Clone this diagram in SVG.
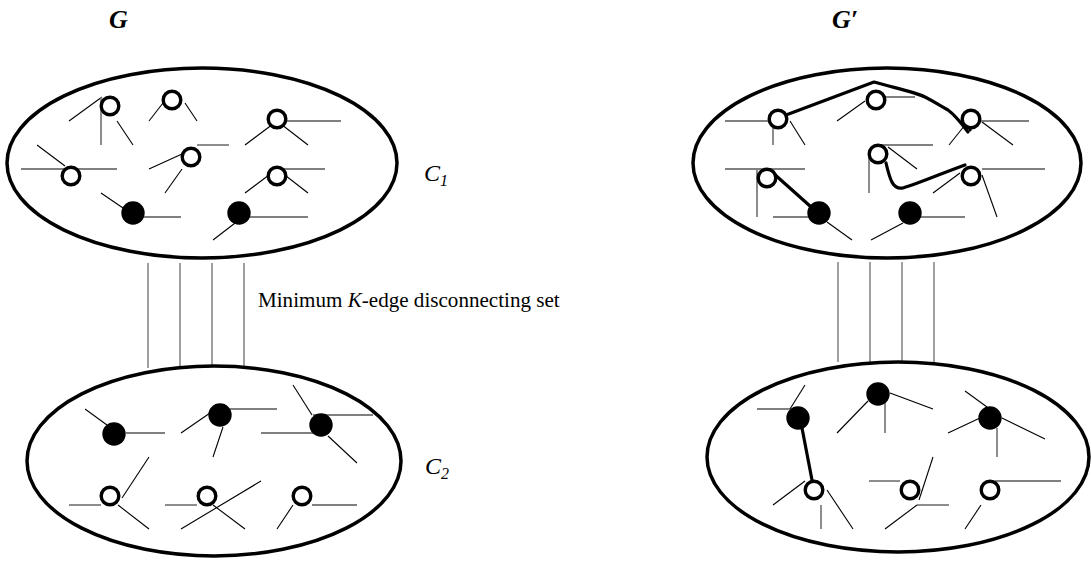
<svg xmlns="http://www.w3.org/2000/svg" width="1091" height="563" viewBox="0 0 1091 563">
<style>
.bg{fill:#fff}
.ell{fill:none;stroke:#000;stroke-width:3.5}
.b{stroke:#000;stroke-width:1.1;fill:none}
.g{stroke:#808080;stroke-width:1.8;fill:none}
.o{fill:#fff;stroke:#000;stroke-width:3.4}
.f{fill:#000}
.th{fill:none;stroke:#000;stroke-width:3.2;stroke-linecap:round;stroke-linejoin:round}
.cn{stroke:#808080;stroke-width:1.5}
.lbl{font-family:"Liberation Serif","Times New Roman",serif;fill:#000}
</style>
<rect class="bg" x="0" y="0" width="1091" height="563"/>

<g id="labels">
<text class="lbl" x="109" y="28" font-size="26" font-weight="bold" font-style="italic">G</text>
<text class="lbl" x="832" y="28" font-size="26" font-weight="bold" font-style="italic">G′</text>
<text class="lbl" x="424" y="181" font-size="24" font-style="italic">C<tspan font-size="16" dy="5">1</tspan></text>
<text class="lbl" x="425" y="474" font-size="24" font-style="italic">C<tspan font-size="16" dy="5">2</tspan></text>
<text class="lbl" x="258" y="307" font-size="21.1">Minimum <tspan font-style="italic">K</tspan>-edge disconnecting set</text>
</g>

<g id="connectors">
<line class="cn" x1="148" y1="263" x2="148" y2="368"/>
<line class="cn" x1="180" y1="263" x2="180" y2="367"/>
<line class="cn" x1="212" y1="263" x2="212" y2="367"/>
<line class="cn" x1="244" y1="263" x2="244" y2="367"/>
<line class="cn" x1="838" y1="262" x2="838" y2="362"/>
<line class="cn" x1="870" y1="262" x2="870" y2="362"/>
<line class="cn" x1="902" y1="262" x2="902" y2="362"/>
<line class="cn" x1="934" y1="262" x2="934" y2="362"/>
<path class="th" d="M786,115 L874,82 C895,88 915,92 925,97 C935,102 940,106 948,110 C955,115 962,124 968,132"/>
<line class="th" x1="970" y1="114" x2="970" y2="130"/>
<path class="th" d="M886,163 C890,180 893,190 903,188 C920,183 945,172 965,165"/>
<line class="th" x1="773" y1="173" x2="810" y2="206"/>
<line class="th" x1="802" y1="428" x2="812" y2="480"/>
</g>

<g id="C1-left">
<ellipse class="ell" cx="202" cy="163" rx="195" ry="95"/>
<g id="L1"><line class="b" x1="69" y1="121" x2="102" y2="97"/><line class="g" x1="101" y1="97" x2="101" y2="145"/><line class="b" x1="117" y1="121" x2="133" y2="145"/><circle class="o" cx="110" cy="106" r="8.8"/></g>
<g id="L2"><line class="b" x1="149" y1="121" x2="163" y2="103"/><line class="b" x1="185" y1="103" x2="197" y2="121"/><circle class="o" cx="172" cy="100" r="8.8"/></g>
<g id="L3"><line class="g" x1="277" y1="121" x2="341" y2="121"/><line class="b" x1="245" y1="145" x2="277" y2="121"/><line class="b" x1="277" y1="121" x2="308" y2="145"/><circle class="o" cx="277" cy="119" r="8.8"/></g>
<g id="L4"><line class="g" x1="197" y1="145" x2="229" y2="145"/><line class="b" x1="149" y1="169" x2="182" y2="154"/><line class="b" x1="165" y1="193" x2="182" y2="169"/><circle class="o" cx="191" cy="157" r="8.8"/></g>
<g id="L5"><line class="g" x1="21" y1="169" x2="117" y2="169"/><line class="b" x1="37" y1="145" x2="65" y2="166"/><circle class="o" cx="71" cy="176" r="8.8"/></g>
<g id="L6"><line class="g" x1="277" y1="169" x2="325" y2="169"/><line class="b" x1="245" y1="193" x2="277" y2="169"/><line class="b" x1="277" y1="169" x2="308" y2="193"/><circle class="o" cx="277" cy="176" r="8.8"/></g>
<g id="L7"><line class="b" x1="101" y1="193" x2="123" y2="208"/><line class="g" x1="133" y1="217" x2="181" y2="217"/><circle class="f" cx="133" cy="213" r="11.7"/></g>
<g id="L8"><line class="g" x1="239" y1="217" x2="308" y2="217"/><line class="b" x1="213" y1="240" x2="239" y2="220"/><circle class="f" cx="239" cy="213" r="11.7"/></g>
</g>

<g id="C2-left">
<ellipse class="ell" cx="214" cy="461" rx="187" ry="95"/>
<g id="M1"><line class="b" x1="85" y1="409" x2="107" y2="425"/><line class="g" x1="126" y1="433" x2="165" y2="433"/><circle class="f" cx="114" cy="434" r="11.7"/></g>
<g id="M2"><line class="g" x1="230" y1="409" x2="277" y2="409"/><line class="b" x1="181" y1="433" x2="210" y2="413"/><line class="b" x1="213" y1="457" x2="223" y2="427"/><circle class="f" cx="220" cy="415" r="11.7"/></g>
<g id="M3"><line class="g" x1="261" y1="433" x2="313" y2="433"/><line class="b" x1="293" y1="385" x2="312" y2="415"/><line class="g" x1="313" y1="415" x2="373" y2="415"/><line class="b" x1="328" y1="436" x2="357" y2="463"/><circle class="f" cx="321" cy="425" r="11.7"/></g>
<g id="M4"><line class="g" x1="69" y1="505" x2="101" y2="505"/><line class="b" x1="122" y1="498" x2="149" y2="457"/><line class="b" x1="118" y1="505" x2="149" y2="529"/><circle class="o" cx="110" cy="496" r="8.8"/></g>
<g id="M5"><line class="g" x1="165" y1="505" x2="197" y2="505"/><line class="b" x1="181" y1="529" x2="261" y2="481"/><line class="b" x1="213" y1="505" x2="245" y2="529"/><circle class="o" cx="207" cy="496" r="8.8"/></g>
<g id="M6"><line class="g" x1="312" y1="505" x2="357" y2="505"/><line class="b" x1="277" y1="529" x2="293" y2="505"/><circle class="o" cx="302" cy="496" r="8.8"/></g>
</g>

<g id="C1-right">
<ellipse class="ell" cx="887" cy="163" rx="194" ry="95"/>
<g id="R1"><line class="g" x1="725" y1="121" x2="773" y2="121"/><line class="g" x1="773" y1="121" x2="773" y2="145"/><line class="b" x1="790" y1="121" x2="805" y2="145"/><circle class="o" cx="778" cy="119" r="8.8"/></g>
<g id="R2"><line class="g" x1="876" y1="97" x2="915" y2="97"/><line class="b" x1="837" y1="121" x2="865" y2="101"/><circle class="o" cx="876" cy="100" r="8.8"/></g>
<g id="R3"><line class="g" x1="971" y1="121" x2="1029" y2="121"/><line class="b" x1="949" y1="145" x2="965" y2="125"/><line class="b" x1="982" y1="122" x2="1013" y2="145"/><circle class="o" cx="971" cy="119" r="8.8"/></g>
<g id="R4"><line class="g" x1="878" y1="145" x2="933" y2="145"/><line class="g" x1="869" y1="154" x2="869" y2="193"/><line class="b" x1="888" y1="147" x2="917" y2="169"/><circle class="o" cx="878" cy="154" r="8.8"/></g>
<g id="R5"><line class="g" x1="725" y1="169" x2="805" y2="169"/><line class="g" x1="757" y1="169" x2="757" y2="217"/><circle class="o" cx="767" cy="178" r="8.8"/></g>
<g id="R6"><line class="g" x1="982" y1="169" x2="1045" y2="169"/><line class="b" x1="933" y1="193" x2="960" y2="173"/><line class="b" x1="982" y1="175" x2="997" y2="217"/><circle class="o" cx="971" cy="176" r="8.8"/></g>
<g id="R7"><line class="g" x1="773" y1="217" x2="810" y2="217"/><line class="b" x1="827" y1="222" x2="852" y2="240"/><circle class="f" cx="819" cy="213" r="11.7"/></g>
<g id="R8"><line class="g" x1="910" y1="217" x2="965" y2="217"/><line class="b" x1="871" y1="240" x2="903" y2="223"/><circle class="f" cx="910" cy="213" r="11.7"/></g>
</g>

<g id="C2-right">
<ellipse class="ell" cx="898" cy="457" rx="191" ry="95"/>
<g id="S1"><line class="g" x1="757" y1="409" x2="790" y2="409"/><line class="b" x1="790" y1="409" x2="805" y2="385"/><circle class="f" cx="798" cy="418" r="11.7"/></g>
<g id="S2"><line class="b" x1="837" y1="433" x2="868" y2="401"/><line class="g" x1="885" y1="403" x2="885" y2="433"/><line class="b" x1="890" y1="393" x2="933" y2="409"/><circle class="f" cx="878" cy="394" r="11.7"/></g>
<g id="S3"><line class="b" x1="965" y1="391" x2="987" y2="407"/><line class="b" x1="948" y1="433" x2="980" y2="418"/><line class="b" x1="1002" y1="418" x2="1045" y2="439"/><line class="g" x1="997" y1="428" x2="997" y2="457"/><circle class="f" cx="990" cy="418" r="11.7"/></g>
<g id="S4"><line class="b" x1="773" y1="505" x2="805" y2="481"/><line class="g" x1="821" y1="505" x2="821" y2="529"/><line class="b" x1="827" y1="490" x2="853" y2="529"/><circle class="o" cx="814" cy="490" r="8.8"/></g>
<g id="S5"><line class="g" x1="869" y1="481" x2="900" y2="481"/><line class="b" x1="933" y1="457" x2="919" y2="500"/><line class="g" x1="917" y1="505" x2="949" y2="505"/><line class="b" x1="885" y1="529" x2="917" y2="505"/><circle class="o" cx="910" cy="490" r="8.8"/></g>
<g id="S6"><line class="g" x1="995" y1="481" x2="1061" y2="481"/><line class="b" x1="965" y1="529" x2="981" y2="505"/><circle class="o" cx="990" cy="490" r="8.8"/></g>
</g>
</svg>
